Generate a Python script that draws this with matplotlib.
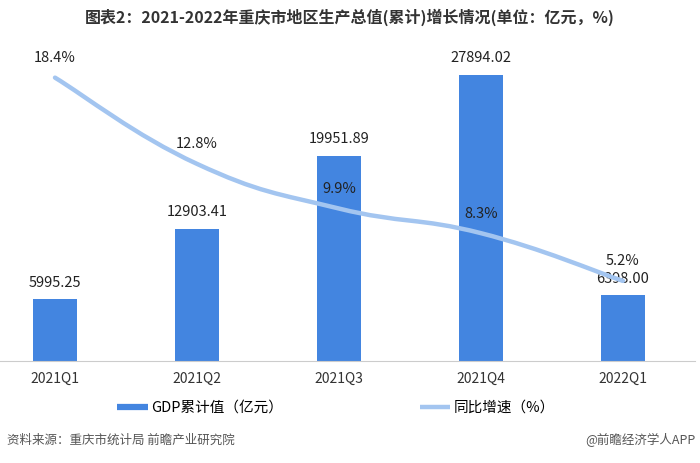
import numpy as np
import matplotlib.pyplot as plt
from matplotlib.path import Path
from matplotlib.patches import PathPatch
from matplotlib.lines import Line2D

plt.rcParams['font.family'] = ['Noto Sans CJK SC', 'DejaVu Sans']

quarters = ["2021Q1", "2021Q2", "2021Q3", "2021Q4", "2022Q1"]
gdp = [5995.25, 12903.41, 19951.89, 27894.02, 6398.00]
growth = [18.4, 12.8, 9.9, 8.3, 5.2]

bar_color = "#4385E0"
line_color = "#A3C5F0"

fig = plt.figure(figsize=(7, 4.63), dpi=100)
ax = fig.add_axes([0, 1 - 361 / 463, 695 / 700, (361 - 53) / 463])
ax2 = ax.twinx()

x = np.arange(len(quarters))
ax.bar(x, gdp, width=0.31, color=bar_color, zorder=2)
ax.set_xlim(-55 / 142, (695 - 55) / 142)
ax.set_ylim(0, 30000)
ax2.set_ylim(0, 20)

for xi, v in zip(x, gdp):
    ax.annotate(f"{v:.2f}", (xi, v), xytext=(0, 7), textcoords="offset points",
                ha="center", va="bottom", fontsize=10.5, color="#222")

# smooth line through the points (bezier path)
k = 0.22
pts = np.column_stack([x, growth]).astype(float)
verts = [tuple(pts[0])]
codes = [Path.MOVETO]
for i in range(len(pts) - 1):
    p0 = pts[max(i - 1, 0)]
    p1 = pts[i]
    p2 = pts[i + 1]
    p3 = pts[min(i + 2, len(pts) - 1)]
    c1 = p1 + (p2 - p0) * k
    c2 = p2 - (p3 - p1) * k
    verts += [tuple(c1), tuple(c2), tuple(p2)]
    codes += [Path.CURVE4] * 3
ax2.add_patch(PathPatch(Path(verts, codes), facecolor="none", edgecolor=line_color,
                        lw=3.2, capstyle="round", zorder=3))

for xi, v in zip(x, growth):
    ax2.annotate(f"{v}%", (xi, v), xytext=(0, 9), textcoords="offset points",
                 ha="center", va="bottom", fontsize=10.5, color="#222")

for a in (ax, ax2):
    for s in ["top", "left", "right"]:
        a.spines[s].set_visible(False)
    a.set_yticks([])
ax2.spines["bottom"].set_visible(False)
ax.spines["bottom"].set_color("#cccccc")
ax.set_xticks(x)
ax.set_xticklabels(quarters, fontsize=10, color="#333")
ax.tick_params(axis="x", length=0, pad=8)

handles = [Line2D([], [], color=bar_color, lw=4.5, solid_capstyle="butt"),
           Line2D([], [], color=line_color, lw=3.2, solid_capstyle="butt")]
fig.legend(handles, ["GDP累计值（亿元）", "同比增速（%）"], loc="center",
           bbox_to_anchor=(336 / 700, 1 - 408 / 463), ncol=2, frameon=False,
           fontsize=10.5, handlelength=2.1, handletextpad=0.2, columnspacing=9.4)

fig.text(0.5, 1 - 17 / 463, "图表2：2021-2022年重庆市地区生产总值(累计)增长情况(单位：亿元，%)",
         ha="center", va="center", fontsize=11.5, fontweight="bold", color="#333")
fig.text(7 / 700, 1 - 440 / 463, "资料来源：重庆市统计局 前瞻产业研究院",
         ha="left", va="center", fontsize=9, color="#555")
fig.text(695 / 700, 1 - 440 / 463, "@前瞻经济学人APP",
         ha="right", va="center", fontsize=9, color="#555")

fig.savefig("out.png", dpi=100)
